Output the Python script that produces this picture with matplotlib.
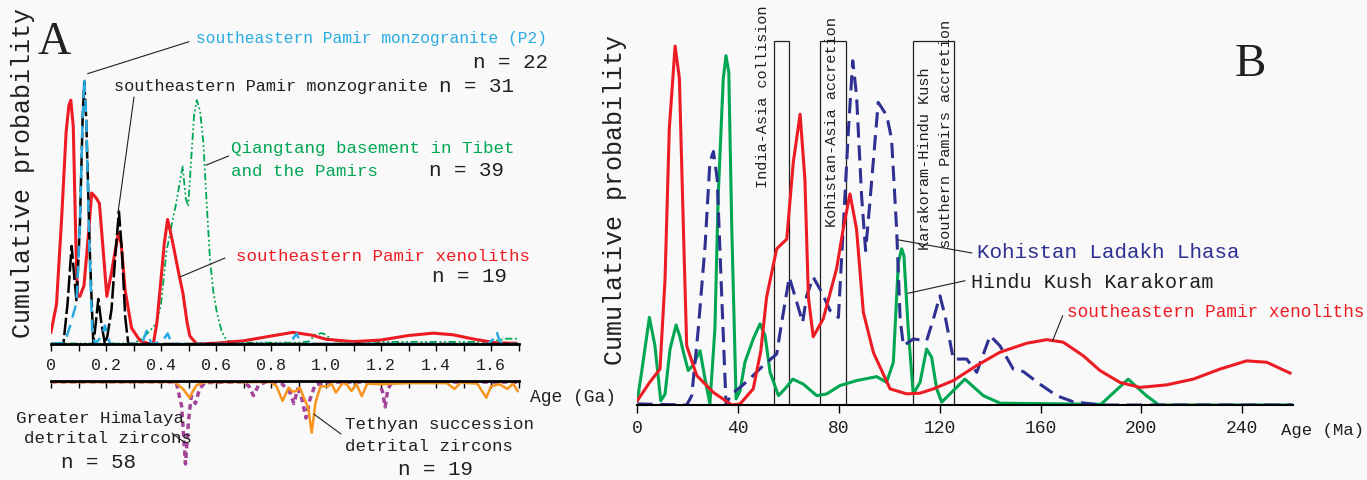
import matplotlib.pyplot as plt
from matplotlib.patches import Rectangle
from matplotlib.ticker import MultipleLocator

W, H = 1367, 481
MONO = "Liberation Mono"
INK = "#231f20"
RED, GREEN, SKY, NAVY = "#ed1c24", "#00a651", "#29abe2", "#2e3192"
ORANGE, PURPLE = "#f7941d", "#a3449a"

# ---- panel A: age (Ga) vs relative probability ----
a_red_age = [0.0, 0.02, 0.039, 0.055, 0.065, 0.072, 0.081, 0.09, 0.096, 0.105, 0.12, 0.135,
             0.148, 0.165, 0.176, 0.19, 0.203, 0.22, 0.235, 0.245, 0.255, 0.27, 0.293, 0.324,
             0.36, 0.372, 0.385, 0.396, 0.412, 0.424, 0.435, 0.445, 0.462, 0.48, 0.495, 0.505,
             0.53, 0.6, 0.7, 0.8, 0.88, 0.95, 1.0, 1.1, 1.2, 1.3, 1.39, 1.46, 1.54, 1.62, 1.69]
a_red_p = [0.045, 0.15, 0.48, 0.8, 0.9, 0.92, 0.82, 0.4, 0.18, 0.18, 0.22, 0.4,
           0.57, 0.55, 0.53, 0.35, 0.18, 0.27, 0.36, 0.42, 0.38, 0.2, 0.06, 0.012,
           0.0, 0.0, 0.08, 0.2, 0.38, 0.47, 0.42, 0.37, 0.28, 0.19, 0.08, 0.03,
           0.0, 0.003, 0.012, 0.03, 0.044, 0.033, 0.018, 0.009, 0.015, 0.032, 0.041, 0.035,
           0.018, 0.004, 0.003]

a_black_age = [0.0, 0.045, 0.06, 0.075, 0.085, 0.093, 0.105, 0.115, 0.121, 0.128, 0.142,
               0.154, 0.163, 0.172, 0.183, 0.196, 0.205, 0.22, 0.235, 0.247, 0.258, 0.27,
               0.281, 1.7]
a_black_p = [0.0, 0.0, 0.15, 0.37, 0.25, 0.16, 0.45, 0.85, 0.99, 0.85, 0.32,
             0.0, 0.08, 0.17, 0.08, 0.0, 0.03, 0.13, 0.35, 0.5, 0.35, 0.1,
             0.0, 0.0]

a_sky_age = [0.0, 0.05, 0.07, 0.093, 0.105, 0.115, 0.121, 0.128, 0.14, 0.15, 0.16, 0.185,
             0.196, 0.206, 0.215, 0.33, 0.348, 0.365, 0.405, 0.424, 0.44, 0.86, 0.88, 0.893,
             0.905, 0.92, 1.59, 1.61, 1.621, 1.632, 1.645, 1.7]
a_sky_p = [0.0, 0.005, 0.07, 0.158, 0.45, 0.85, 1.0, 0.85, 0.35, 0.05, 0.0, 0.03,
           0.07, 0.03, 0.0, 0.0, 0.05, 0.0, 0.01, 0.04, 0.0, 0.0, 0.02, 0.04,
           0.01, 0.0, 0.0, 0.02, 0.045, 0.01, 0.0, 0.0]

a_green_age = [0.0, 0.3, 0.33, 0.36, 0.385, 0.4, 0.42, 0.439, 0.455, 0.47, 0.479, 0.49,
               0.499, 0.51, 0.52, 0.53, 0.542, 0.554, 0.565, 0.578, 0.59, 0.603, 0.62,
               0.639, 0.7, 0.9, 0.94, 0.96, 0.984, 1.0, 1.02, 1.06, 1.6, 1.65, 1.7]
a_green_p = [0.002, 0.002, 0.02, 0.05, 0.08, 0.15, 0.35, 0.45, 0.53, 0.62, 0.67, 0.55,
             0.52, 0.7, 0.86, 0.92, 0.88, 0.76, 0.55, 0.32, 0.2, 0.12, 0.05,
             0.012, 0.005, 0.005, 0.01, 0.035, 0.041, 0.035, 0.015, 0.008, 0.008, 0.02, 0.02]

# lower part of panel A (drawn downwards)
a_orange_age = [0.0, 0.45, 0.48, 0.504, 0.515, 0.53, 0.56, 0.8, 0.82, 0.842, 0.864, 0.878,
                0.892, 0.905, 0.921, 0.935, 0.948, 0.962, 0.98, 1.007, 1.02, 1.036, 1.06,
                1.075, 1.093, 1.11, 1.13, 1.15, 1.2, 1.3, 1.44, 1.467, 1.49, 1.55, 1.583,
                1.6, 1.63, 1.66, 1.68, 1.697]
a_orange_p = [0.004, 0.004, 0.03, 0.063, 0.04, 0.015, 0.004, 0.004, 0.02, 0.075, 0.025, 0.04,
              0.038, 0.025, 0.068, 0.1, 0.195, 0.08, 0.02, 0.02, 0.01, 0.044, 0.008,
              0.012, 0.038, 0.01, 0.057, 0.01, 0.012, 0.008, 0.008, 0.03, 0.006, 0.01, 0.063,
              0.02, 0.012, 0.03, 0.01, 0.038]

a_purple_age = [0.0, 0.455, 0.475, 0.489, 0.5, 0.51, 0.525, 0.54, 0.56, 0.7, 0.72, 0.736,
                0.755, 0.78, 0.84, 0.87, 0.883, 0.897, 0.91, 0.927, 0.94, 0.96, 1.0, 1.19,
                1.205, 1.215, 1.225, 1.24, 1.7]
a_purple_p = [0.003, 0.003, 0.095, 0.313, 0.15, 0.057, 0.085, 0.03, 0.006, 0.003, 0.02, 0.055,
              0.015, 0.004, 0.01, 0.045, 0.085, 0.03, 0.057, 0.14, 0.075, 0.015, 0.004, 0.004,
              0.038, 0.098, 0.03, 0.004, 0.004]

# ---- panel B: age (Ma) vs relative probability ----
b_red_age = [0, 5, 9, 11, 12.7, 15, 16.7, 18.3, 19.6, 23.6, 30.2, 37.5, 40.8, 46, 49, 51.3,
             55.3, 59.3, 61.9, 64.6, 66.5, 67.9, 69.8, 73.8, 79.1, 81.7, 84.4, 87, 89.7, 93.7,
             100.3, 106.9, 112.2, 117.5, 125.4, 134.7, 143.9, 154.5, 162.5, 169, 177, 183.6,
             191.5, 199.5, 210, 220.6, 231.2, 241.8, 249.8, 259]
b_red_p = [0.012, 0.064, 0.1, 0.35, 0.77, 1.0, 0.91, 0.49, 0.165, 0.082, 0.035, 0.0, 0.003,
           0.045, 0.15, 0.3, 0.435, 0.462, 0.676, 0.81, 0.63, 0.3, 0.19, 0.24, 0.38, 0.49,
           0.588, 0.49, 0.258, 0.146, 0.045, 0.031, 0.033, 0.045, 0.068, 0.11, 0.147, 0.172,
           0.182, 0.175, 0.137, 0.096, 0.063, 0.049, 0.056, 0.072, 0.1, 0.123, 0.119, 0.089]

b_green_age = [0, 1.7, 4.8, 7, 9.3, 11, 13, 15.4, 16.9, 18.3, 20.2, 22, 24.9, 26.9, 28.8,
               30.8, 32.1, 34.1, 35.2, 36.3, 37.5, 39.2, 40.8, 42.7, 46, 48.7, 50.7, 52.7,
               56, 58.6, 61.7, 65.9, 71.2, 75.2, 80.4, 87, 95, 98.9, 101.6, 103.6, 104.9,
               105.8, 107.5, 109.5, 112.2, 114.8, 116.8, 118.8, 120.8, 124.1, 130, 137.3, 144,
               184, 194.8, 202, 207, 260]
b_green_p = [0.012, 0.091, 0.244, 0.165, 0.012, 0.03, 0.156, 0.223, 0.19, 0.147, 0.096, 0.11,
             0.151, 0.072, 0.003, 0.212, 0.583, 0.908, 0.973, 0.927, 0.49, 0.017, 0.04, 0.119,
             0.184, 0.226, 0.193, 0.091, 0.026, 0.045, 0.072, 0.058, 0.026, 0.031, 0.054,
             0.068, 0.079, 0.063, 0.119, 0.397, 0.435, 0.416, 0.212, 0.031, 0.063, 0.156,
             0.133, 0.045, 0.008, 0.031, 0.072, 0.026, 0.005, 0.002, 0.072, 0.026, 0.0, 0.0]

b_navy_age = [0, 19.6, 21.6, 24.2, 26.9, 28.8, 30.2, 31.7, 33.5, 35.2, 37.5, 40.8, 44.2, 50,
              55.3, 57.3, 60.3, 63.3, 65.6, 67.2, 69.8, 73.2, 76.5, 79.8, 81.7, 83.8, 85.5,
              87, 89, 90.6, 92.3, 95.6, 99, 100.9, 102.9, 104.3, 105.6, 109.5, 114.8, 117.5,
              120.1, 122.1, 125.4, 130.7, 134.7, 140, 143.9, 149.2, 153.2, 159.8, 166.4, 173,
              184, 260]
b_navy_p = [0.003, 0.0, 0.026, 0.212, 0.444, 0.676, 0.706, 0.63, 0.304, 0.003, 0.031, 0.049,
            0.07, 0.11, 0.142, 0.23, 0.356, 0.286, 0.23, 0.304, 0.356, 0.314, 0.263, 0.244,
            0.49, 0.769, 0.959, 0.862, 0.583, 0.43, 0.565, 0.843, 0.806, 0.741, 0.49, 0.24,
            0.165, 0.184, 0.179, 0.24, 0.304, 0.249, 0.128, 0.128, 0.091, 0.193, 0.165, 0.1,
            0.093, 0.058, 0.026, 0.009, 0.0, 0.0]

# tectonic events (Ma)
event_start = [54.3, 72.5, 109.6]
event_end = [60.3, 82.8, 125.8]

a_ticks = [0, 0.2, 0.4, 0.6, 0.8, 1.0, 1.2, 1.4, 1.6]
b_ticks = [0, 40, 80, 120, 160, 200, 240]

fig = plt.figure(figsize=(W / 100, H / 100), dpi=100, facecolor="#f9f9f9")


def px_axes(left, top, right, bottom):
    ax = fig.add_axes([left / W, 1 - bottom / H, (right - left) / W, (bottom - top) / H])
    ax.set_facecolor("none")
    for side in ("left", "right", "top", "bottom"):
        ax.spines[side].set_visible(False)
    ax.set_yticks([])
    return ax


def ftext(x, y, s, color=INK, size=15, **kw):
    kw.setdefault("ha", "left")
    kw.setdefault("va", "center")
    fig.text(x / W, 1 - y / H, s, color=color, fontsize=size, family=MONO, **kw)


def leader(ax, xy, x, y):
    ax.annotate("", xy=xy, xytext=(x, H - y), textcoords="figure pixels",
                arrowprops=dict(arrowstyle="-", color=INK, lw=0.8, shrinkA=0, shrinkB=0),
                annotation_clip=False)


# panel A upper
ax = px_axes(51, 0, 518.5, 345)
ax.set_xlim(0, 1.7)
ax.set_ylim(0, 345 / 265)
ax.spines["bottom"].set_visible(True)
ax.spines["bottom"].set_linewidth(2)
ax.set_xticks(a_ticks)
ax.set_xticklabels(["0" if t == 0 else f"{t:.1f}" for t in a_ticks],
                   family=MONO, fontsize=12, color=INK)
ax.xaxis.set_minor_locator(MultipleLocator(0.1))
ax.tick_params(axis="x", which="both", length=5, width=1, pad=4.5)
ax.plot(a_green_age, a_green_p, color=GREEN, lw=1.3, dashes=(4, 1.5, 1, 1.5, 1, 1.5))
ax.plot(a_red_age, a_red_p, color=RED, lw=2.2)
ax.plot(a_black_age, a_black_p, color="black", lw=1.8, dashes=(7, 1.5))
ax.plot(a_sky_age, a_sky_p, color=SKY, lw=1.8, dashes=(5, 3))
leader(ax, (0.133, 1.02), 189, 42.7)
leader(ax, (0.244, 0.498), 134, 98)
leader(ax, (0.564, 0.675), 228.6, 157)
leader(ax, (0.469, 0.253), 225, 259)

# panel A lower
axl = px_axes(51, 382, 518.5, 481)
axl.set_xlim(0, 1.7)
axl.set_ylim(-99 / 265, 0)
axl.spines["top"].set_visible(True)
axl.spines["top"].set_linewidth(2)
axl.xaxis.set_ticks_position("top")
axl.xaxis.set_major_locator(MultipleLocator(0.1))
axl.tick_params(axis="x", direction="in", length=5, width=1, labeltop=False, labelbottom=False)
axl.plot(a_purple_age, [-v for v in a_purple_p], color=PURPLE, lw=2.5, dashes=(1.6, 1.2))
axl.plot(a_orange_age, [-v for v in a_orange_p], color=ORANGE, lw=1.8)
leader(axl, (0.484, -0.231), 172, 434)
leader(axl, (0.956, -0.125), 341, 435)

# panel B
bx = px_axes(637.3, 0, 1292.5, 406)
bx.set_xlim(0, 260)
bx.set_ylim(0, 406 / 359)
bx.spines["bottom"].set_visible(True)
bx.spines["bottom"].set_linewidth(1.5)
bx.set_xticks(b_ticks)
bx.set_xticklabels([str(t) for t in b_ticks], family=MONO, fontsize=13, color=INK)
bx.tick_params(axis="x", length=6, width=1, pad=4)
for s, e in zip(event_start, event_end):
    bx.add_patch(Rectangle((s, 0), e - s, 1.014, fill=False, ec=INK, lw=0.9))
bx.plot(b_green_age, b_green_p, color=GREEN, lw=2.2)
bx.plot(b_navy_age, b_navy_p, color=NAVY, lw=2.2, dashes=(5, 2.5))
bx.plot(b_red_age, b_red_p, color=RED, lw=2.2)
leader(bx, (103.5, 0.46), 972, 254)
leader(bx, (107.3, 0.311), 965, 281.7)
leader(bx, (164.8, 0.179), 1062.7, 316.7)

# axis titles and panel letters
ftext(23, 173.5, "Cumulative probability", size=18, rotation=90, ha="center")
ftext(615, 200, "Cumulative probability", size=18, rotation=90, ha="center")
fig.text(54 / W, 1 - 43 / H, "A", fontsize=33, family="Liberation Serif", color=INK,
         ha="center", va="center")
fig.text(1250 / W, 1 - 65 / H, "B", fontsize=34, family="Liberation Serif", color=INK,
         ha="center", va="center")
ftext(529.6, 398, "Age (Ga)", size=13)
ftext(1364, 430, "Age (Ma)", size=12.5, ha="right")

# panel A labels
ftext(196, 38, "southeastern Pamir monzogranite (P2)", color=SKY, size=11.7)
ftext(548, 62, "n = 22", ha="right")
ftext(114, 87, "southeastern Pamir monzogranite", size=12.2)
ftext(514, 87, "n = 31", ha="right")
ftext(231, 148, "Qiangtang basement in Tibet", color=GREEN, size=12.6)
ftext(231, 171, "and the Pamirs", color=GREEN, size=12.6)
ftext(504, 171, "n = 39", ha="right")
ftext(236, 257, "southeastern Pamir xenoliths", color=RED, size=12.6)
ftext(507, 277, "n = 19", ha="right")
ftext(100, 418, "Greater Himalaya", size=12.6, ha="center")
ftext(108, 439, "detrital zircons", size=12.6, ha="center")
ftext(99, 462, "n = 58", ha="center")
ftext(345, 424, "Tethyan succession", size=12.6)
ftext(345, 447, "detrital zircons", size=12.6)
ftext(398, 470, "n = 19")

# panel B labels
ftext(976.7, 253, "Kohistan Ladakh Lhasa", color=NAVY)
ftext(971, 282, "Hindu Kush Karakoram", size=14.5)
ftext(1066.7, 313, "southeastern Pamir xenoliths", color=RED, size=12.7)

for label, x, y in [("India-Asia collision", 763.5, 188),
                    ("Kohistan-Asia accretion", 831.7, 227),
                    ("Karakoram-Hindu Kush", 925, 250),
                    ("southern Pamirs accretion", 946.5, 248)]:
    ftext(x, y, label, size=11, rotation=90, ha="center", va="bottom")

fig.savefig("out.png", dpi=100, facecolor=fig.get_facecolor())
